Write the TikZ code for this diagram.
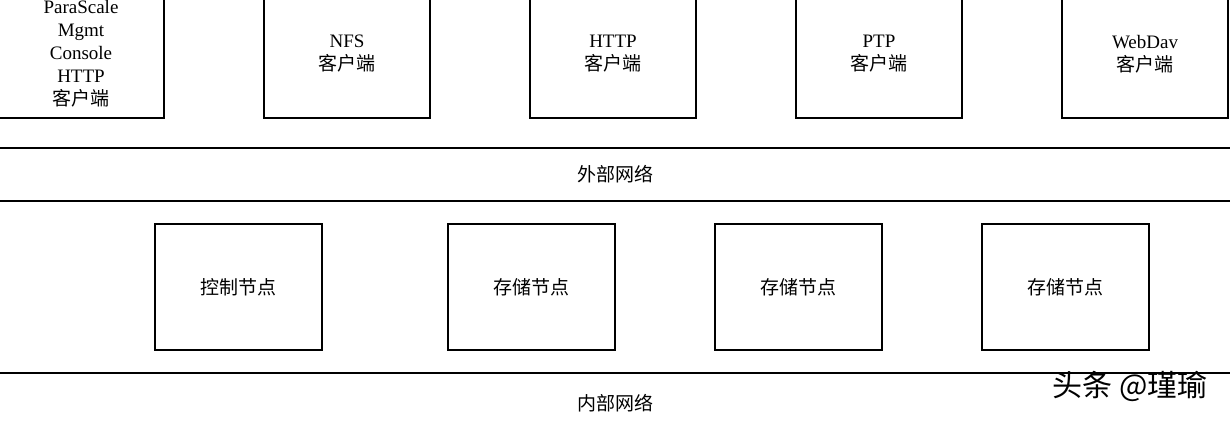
\documentclass[tikz,border=0pt]{standalone}
\usepackage{fontspec}
\setmainfont{Liberation Serif}
\newfontfamily\cjk{Noto Sans CJK SC}
\usetikzlibrary{positioning}

\begin{document}
\begin{tikzpicture}[x=0.5pt, y=-0.5pt, node distance=49pt,
  font=\fontsize{9.5}{11.5}\selectfont,
  client/.style={draw, line width=1pt, minimum width=83pt, minimum height=64pt, align=center},
  server/.style={draw, line width=1pt, minimum width=83.5pt, minimum height=63pt, align=center}]
\useasboundingbox (0,0) rectangle (1230,422);
\clip (0,0) rectangle (1230,422);

% clients
\node [client] (mgmt) at (81,54) {ParaScale\\Mgmt\\Console\\HTTP\\{\cjk 客户端}};
\node [client, right=of mgmt] (nfs) {NFS\\{\cjk 客户端}};
\node [client, right=of nfs] (http) {HTTP\\{\cjk 客户端}};
\node [client, right=of http] (ptp) {PTP\\{\cjk 客户端}};
\node [client, right=of ptp] (webdav) {WebDav\\{\cjk 客户端}};

% external network
\draw [line width=1pt] (0,148) -- (1230,148);
\node (extnet) at (615,174) {\cjk 外部网络};
\draw [line width=1pt] (0,201) -- (1230,201);

% nodes
\node [server] (ctrl) at (238.5,287) {\cjk 控制节点};
\node [server, right=62pt of ctrl] (store1) {\cjk 存储节点};
\node [server, right=of store1] (store2) {\cjk 存储节点};
\node [server, right=of store2] (store3) {\cjk 存储节点};

% internal network
\draw [line width=1pt] (0,373) -- (1230,373);
\node (intnet) at (615,403) {\cjk 内部网络};

\node [font=\cjk\fontsize{15}{17}\selectfont] (mark) at (1130,386) {头条 @瑾瑜};
\end{tikzpicture}
\end{document}
